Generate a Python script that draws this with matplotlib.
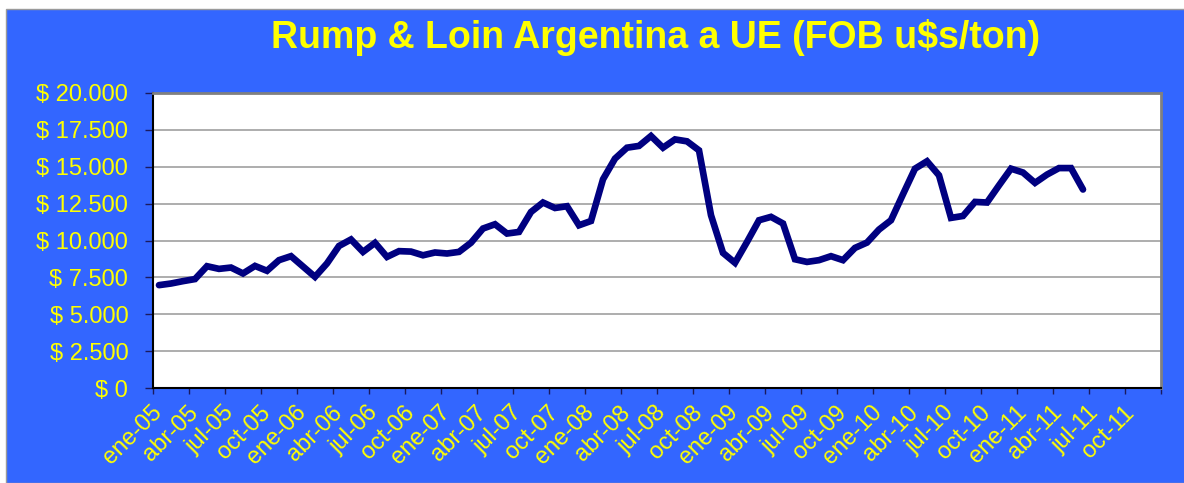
import matplotlib.pyplot as plt
from matplotlib.patches import Rectangle

# monthly FOB price, ene-05 .. jun-11 (u$s/ton)
precios = [
    6980, 7090, 7250, 7390, 8260, 8080, 8170, 7770, 8280, 7950, 8670, 8940,   # 2005
    8240, 7540, 8450, 9630, 10070, 9230, 9840, 8890, 9280, 9250, 9000, 9190,  # 2006
    9120, 9230, 9850, 10810, 11100, 10470, 10580, 11930, 12570, 12200, 12320, 11030,  # 2007
    11320, 14140, 15540, 16280, 16400, 17070, 16280, 16840, 16710, 16100, 11710, 9160,  # 2008
    8490, 9900, 11370, 11600, 11150, 8730, 8550, 8670, 8940, 8670, 9500, 9860,  # 2009
    10740, 11370, 13130, 14860, 15360, 14410, 11530, 11660, 12610, 12570, 13730, 14860,  # 2010
    14600, 13900, 14460, 14900, 14900, 13450,  # 2011
]

etiquetas_x = [f"{m}-{a:02d}" for a in range(5, 12) for m in ["ene", "abr", "jul", "oct"]]
valores_y = [0, 2500, 5000, 7500, 10000, 12500, 15000, 17500, 20000]
etiquetas_y = ["$ " + f"{v:,.0f}".replace(",", ".") for v in valores_y]

azul = "#3366FF"
amarillo = "#FFFF00"
plt.rcParams["font.family"] = ["Liberation Sans", "DejaVu Sans"]

fig = plt.figure(figsize=(11.84, 4.83), dpi=100, facecolor="white")
fig.patches.append(Rectangle((6 / 1184, 0), 1, 1 - 9 / 483, transform=fig.transFigure,
                             facecolor=azul, edgecolor="#9a9a9a", linewidth=1, zorder=-1))

ax = fig.add_axes([153 / 1184, 1 - 388.3 / 483, 1008 / 1184, 295.6 / 483])
ax.set_facecolor("white")

x = [i + 0.5 for i in range(len(precios))]
ax.plot(x, precios, color="#000080", linewidth=4.8, solid_joinstyle="miter",
        solid_capstyle="round", zorder=3)

ax.set_xlim(0, 84)
ax.set_ylim(0, 20000)
ax.set_yticks(valores_y)
ax.set_yticklabels(etiquetas_y)
ax.grid(axis="y", color="#a0a0a0", linewidth=1.2)
ax.set_axisbelow(True)

ax.set_xticks(range(0, 85, 3))
ax.set_xticklabels([])
ax.set_xticks([i * 3 + 0.5 for i in range(len(etiquetas_x))], minor=True)
ax.set_xticklabels(etiquetas_x, minor=True, rotation=45, ha="right", va="center",
                   rotation_mode="anchor")
ax.tick_params(axis="x", which="minor", length=0, pad=15, labelsize=17, labelcolor=amarillo)
ax.tick_params(axis="x", which="major", length=4.3, color="#1a1a5e", width=1)
ax.tick_params(axis="y", length=5.8, color="#1a1a5e", width=1, pad=12, labelsize=17,
               labelcolor=amarillo)

for lado in ["left", "bottom"]:
    ax.spines[lado].set_color("black")
    ax.spines[lado].set_linewidth(1.5)
for lado in ["top", "right"]:
    ax.spines[lado].set_color("#808080")
    ax.spines[lado].set_linewidth(2)

fig.text(656 / 1184, 1 - 37 / 483, "Rump & Loin Argentina a UE (FOB u$s/ton)",
         ha="center", va="center", fontsize=27, fontweight="bold", color=amarillo)

fig.savefig("out.png", dpi=100, facecolor=fig.get_facecolor())
